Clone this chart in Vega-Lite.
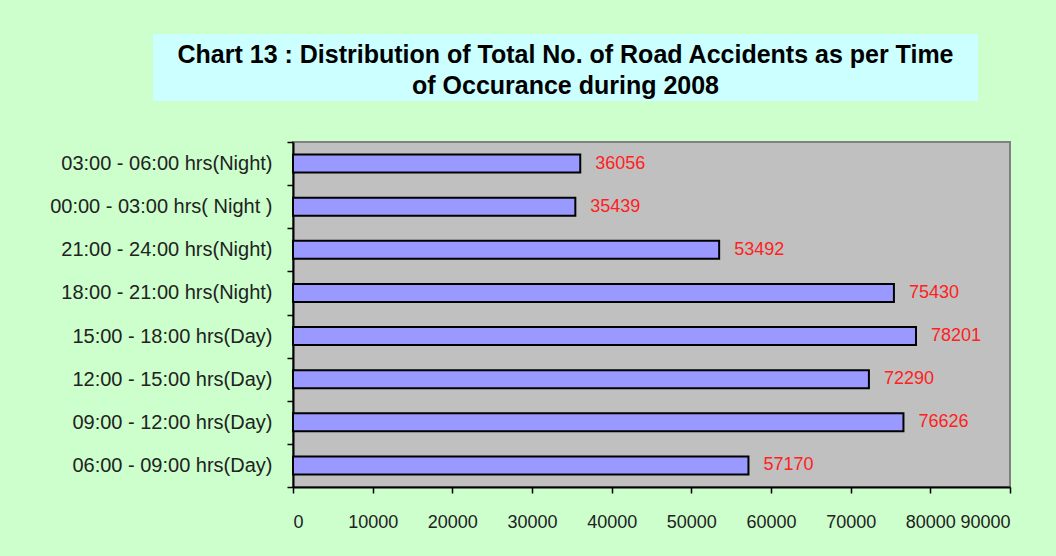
{
  "$schema": "https://vega.github.io/schema/vega-lite/v6.json",
  "background": "#CCFFCC",
  "padding": {"left": 47, "top": 34, "right": 60, "bottom": 40},
  "columns": 2,
  "align": "none",
  "spacing": {"row": 30, "column": 0},
  "config": {
    "font": "Liberation Sans",
    "view": {"stroke": null}
  },
  "datasets": {
    "accidents": [
      {"time": "03:00 - 06:00 hrs(Night)", "accidents": 36056},
      {"time": "00:00 - 03:00 hrs( Night )", "accidents": 35439},
      {"time": "21:00 - 24:00 hrs(Night)", "accidents": 53492},
      {"time": "18:00 - 21:00 hrs(Night)", "accidents": 75430},
      {"time": "15:00 - 18:00 hrs(Day)", "accidents": 78201},
      {"time": "12:00 - 15:00 hrs(Day)", "accidents": 72290},
      {"time": "09:00 - 12:00 hrs(Day)", "accidents": 76626},
      {"time": "06:00 - 09:00 hrs(Day)", "accidents": 57170}
    ],
    "title": [
      {"line": ["Chart 13 : Distribution of Total No. of Road Accidents as per Time", "of Occurance during 2008"]}
    ],
    "empty": []
  },
  "concat": [
    {
      "width": 1,
      "height": 1,
      "view": {"stroke": null},
      "data": {"name": "empty"},
      "mark": "point"
    },
    {
      "spacing": 101,
      "hconcat": [
        {
          "width": 4,
          "height": 67,
          "view": {"stroke": null},
          "data": {"name": "empty"},
          "mark": "point"
        },
        {
          "width": 825,
          "height": 67,
          "view": {"fill": "#CCFFFF", "stroke": null},
          "data": {"name": "title"},
          "mark": {"type": "text", "font": "Liberation Sans", "fontWeight": "bold", "fontSize": 25, "lineHeight": 31, "dy": -13, "align": "center", "baseline": "middle", "color": "#000000"},
          "encoding": {"text": {"field": "line"}}
        }
      ]
    },
    {
      "width": 1,
      "height": 1,
      "view": {"stroke": null},
      "data": {"name": "empty"},
      "mark": "point"
    },
    {
      "width": 717,
      "height": 345,
      "view": {"fill": "#C0C0C0", "stroke": "#808080", "strokeWidth": 2},
      "data": {"name": "accidents"},
      "encoding": {
        "y": {
          "field": "time",
          "type": "nominal",
          "sort": null,
          "scale": {"paddingInner": 0, "paddingOuter": 0},
          "axis": {
            "title": null,
            "tickBand": "extent",
            "tickSize": 6,
            "tickColor": "#000000",
            "tickWidth": 1.5,
            "domainColor": "#000000",
            "domainWidth": 2,
            "labelFontSize": 20,
            "labelLimit": 0,
            "labelColor": "#222222",
            "labelPadding": 15,
            "labelFont": "Liberation Sans",
            "grid": false
          }
        },
        "x": {
          "field": "accidents",
          "type": "quantitative",
          "scale": {"domain": [0, 90000], "nice": false},
          "axis": {
            "title": null,
            "values": [0, 10000, 20000, 30000, 40000, 50000, 60000, 70000, 80000, 90000],
            "format": "d",
            "grid": false,
            "tickSize": 6,
            "tickColor": "#000000",
            "tickWidth": 1.5,
            "domainColor": "#000000",
            "domainWidth": 2,
            "labelFontSize": 18,
            "labelColor": "#222222",
            "labelPadding": 20,
            "labelFont": "Liberation Sans"
          }
        }
      },
      "layer": [
        {
          "mark": {"type": "bar", "height": {"band": 0.42}, "fill": "#9999FF", "stroke": "#000000", "strokeWidth": 2}
        },
        {
          "mark": {"type": "text", "align": "left", "baseline": "middle", "dx": 15, "fontSize": 18, "color": "#FF2020", "font": "Liberation Sans"},
          "encoding": {"text": {"field": "accidents", "type": "quantitative", "format": "d"}}
        }
      ]
    }
  ]
}
